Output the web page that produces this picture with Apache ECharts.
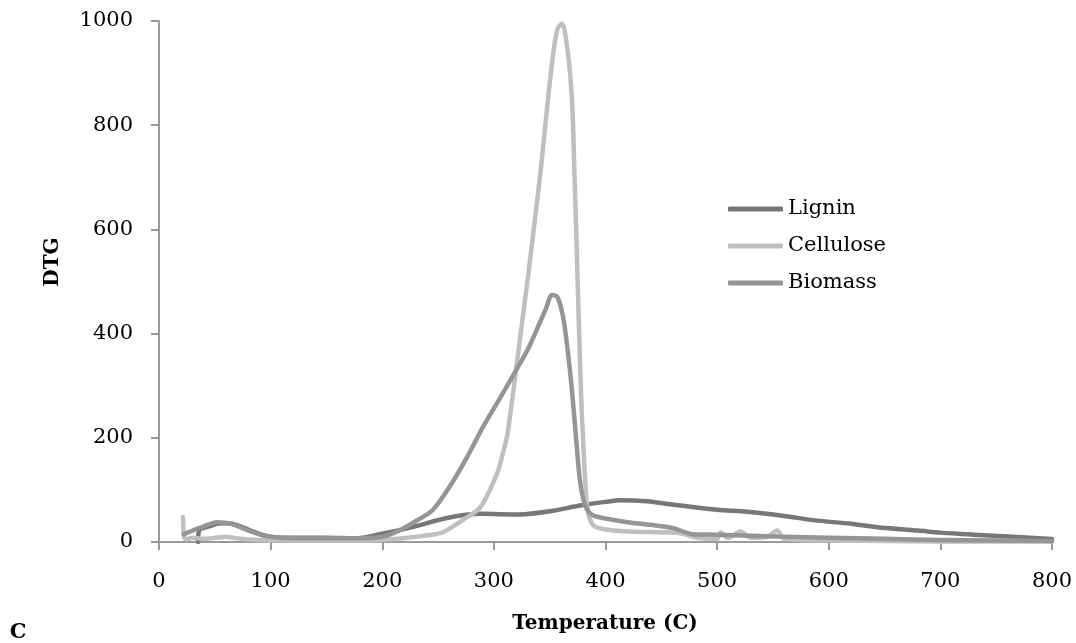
<!DOCTYPE html>
<html>
<head>
<meta charset="utf-8">
<script src="https://cdn.jsdelivr.net/npm/echarts@6/dist/echarts.min.js"></script>
<style>
html,body{margin:0;padding:0;background:#fff;}
#chart{width:1076px;height:643px;}
</style>
</head>
<body>
<div id="chart"></div>
<script>
// ---- Data ----
var xTicks = [0, 100, 200, 300, 400, 500, 600, 700, 800];
var yTicks = [0, 200, 400, 600, 800, 1000];

var ligninT = [35, 36, 45, 55, 65, 80, 95, 110, 130, 150, 175, 200, 228, 258, 288, 323, 353, 377, 400, 413, 437, 467, 500, 527, 560, 586, 620, 646, 680, 700, 730, 765, 800];
var ligninV = [0, 22, 30, 36, 35, 24, 12, 8, 8, 8, 7, 16, 29, 46, 54, 53, 60, 70, 77, 80, 78, 70, 62, 58, 50, 42, 35, 28, 22, 18, 14, 10, 6];

var celluloseT = [21.5, 22.5, 24, 30, 40, 50, 60, 70, 80, 100, 130, 160, 200, 230, 252, 262, 272, 288, 303, 308, 312, 318, 324, 330, 336, 342, 348, 353, 357, 361, 366, 370, 372, 374, 376, 378, 380, 382, 384, 389, 400, 420, 440, 467, 482, 500, 503, 510, 521, 530, 545, 554, 560, 600, 650, 700, 800];
var celluloseV = [48, 10, 5, 8, 6, 8, 10, 7, 5, 3, 3, 3, 4, 10, 17, 28, 42, 67, 132, 170, 205, 300, 400, 500, 605, 715, 840, 935, 985, 995, 944, 848, 720, 580, 430, 290, 190, 113, 61, 32, 24, 20, 19, 17, 8, 6, 18, 8, 20, 8, 10, 22, 6, 3, 2, 1, 1];

var biomassT = [22, 30, 40, 52, 65, 80, 95, 110, 130, 150, 175, 200, 216, 230, 245, 260, 276, 290, 306, 320, 330, 340, 347, 352, 357, 362, 366, 370, 374, 377, 381, 385, 390, 400, 420, 440, 460, 478, 500, 530, 560, 600, 650, 700, 750, 800];
var biomassV = [15, 22, 30, 38, 35, 22, 12, 8, 7, 7, 7, 10, 23, 40, 61, 105, 163, 220, 278, 330, 368, 415, 450, 474, 470, 432, 370, 290, 190, 120, 75, 58, 50, 45, 38, 33, 27, 15, 14, 12, 10, 8, 6, 4, 3, 2];

function pairs(xs, ys) {
  var out = [];
  for (var i = 0; i < xs.length; i++) out.push([xs[i], ys[i]]);
  return out;
}

var tickFont = '"DejaVu Serif", serif';
var chart = echarts.init(document.getElementById('chart'), null, {renderer: 'canvas'});

function lineSeries(name, data, color) {
  return {
    name: name,
    type: 'line',
    data: data,
    showSymbol: false,
    symbol: 'none',
    smooth: 0.3,
    lineStyle: {color: color, width: 4.5, cap: 'round', join: 'round'},
    itemStyle: {color: color},
    emphasis: {disabled: true},
    z: 2
  };
}

chart.setOption({
  animation: false,
  backgroundColor: '#ffffff',
  grid: {left: 159, right: 24, top: 21, bottom: 101, containLabel: false},
  xAxis: {
    type: 'value',
    min: 0, max: 800, interval: 100,
    axisLine: {show: true, lineStyle: {color: '#9a9a9a', width: 2}},
    axisTick: {show: true, length: 8, lineStyle: {color: '#9a9a9a', width: 2}},
    splitLine: {show: false},
    axisLabel: {
      margin: 29, color: '#000', fontFamily: tickFont, fontSize: 21,
      formatter: function (v) { return xTicks.indexOf(v) >= 0 ? String(v) : ''; }
    }
  },
  yAxis: {
    type: 'value',
    min: 0, max: 1000, interval: 200,
    axisLine: {show: true, lineStyle: {color: '#9a9a9a', width: 2}},
    axisTick: {show: true, length: 8, lineStyle: {color: '#9a9a9a', width: 2}},
    splitLine: {show: false},
    axisLabel: {
      margin: 26, color: '#000', fontFamily: tickFont, fontSize: 21,
      formatter: function (v) { return yTicks.indexOf(v) >= 0 ? String(v) : ''; }
    }
  },
  legend: {
    orient: 'vertical',
    left: 723, top: 192,
    icon: 'roundRect',
    itemWidth: 55, itemHeight: 5,
    itemGap: 13,
    textStyle: {color: '#000', fontFamily: tickFont, fontSize: 21, lineHeight: 24},
    data: ['Lignin', 'Cellulose', 'Biomass']
  },
  graphic: [
    {type: 'text', x: 53, y: 262, rotation: Math.PI / 2,
     style: {text: 'DTG', align: 'center', verticalAlign: 'middle', fill: '#000', font: 'bold 20px "DejaVu Serif", serif'}},
    {type: 'text', x: 605, y: 624,
     style: {text: 'Temperature (C)', align: 'center', verticalAlign: 'middle', fill: '#000', font: 'bold 20px "DejaVu Serif", serif'}},
    {type: 'text', x: 18, y: 633,
     style: {text: 'C', align: 'center', verticalAlign: 'middle', fill: '#000', font: 'bold 21px "DejaVu Serif", serif'}}
  ],
  series: [
    lineSeries('Lignin', pairs(ligninT, ligninV), '#777777'),
    lineSeries('Cellulose', pairs(celluloseT, celluloseV), '#bfbfbf'),
    lineSeries('Biomass', pairs(biomassT, biomassV), '#959595')
  ]
});
</script>
</body>
</html>
